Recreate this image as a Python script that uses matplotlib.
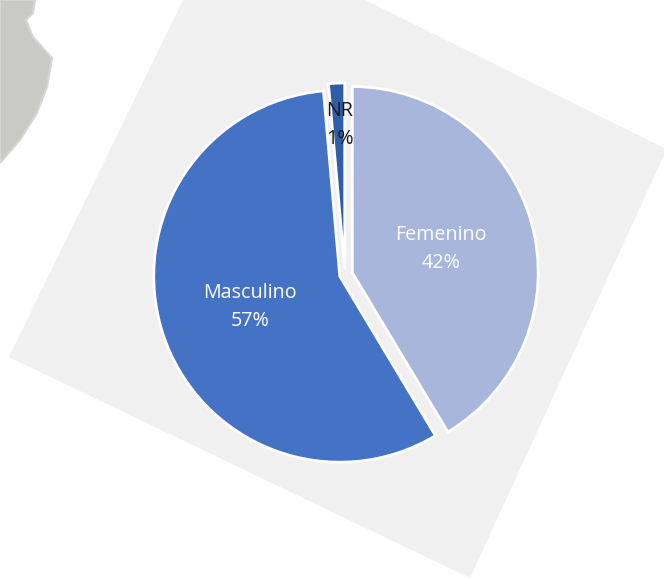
import matplotlib
matplotlib.use("Agg")
import matplotlib.pyplot as plt
from matplotlib.patches import Polygon

W, H = 664, 579
categories = ["Femenino", "Masculino", "NR"]
values = [41.4, 57.2, 1.4]
pct_labels = ["42%", "57%", "1%"]
colors = ["#a9b6dc", "#4472c4", "#2f5ea8"]
explode = [7.5, 5.5, 5.5]
text_colors = ["white", "white", "#1a1a1a"]
label_xy = [(441, 249), (250, 307), (340, 125)]

panel = [(9, 357), (183, 0), (365, 0), (664, 148), (664, 155), (470, 578)]
land = [(0, 0), (35, 0), (33, 13), (26, 20), (33, 37), (52, 58), (47, 87),
        (37, 113), (20, 140), (0, 163)]


def flip(pts):
    return [(x, H - y) for x, y in pts]


plt.rcParams["font.family"] = ["Open Sans", "DejaVu Sans"]
fig = plt.figure(figsize=(W / 100, H / 100), dpi=100, facecolor="white")
ax = fig.add_axes([0, 0, 1, 1])

ax.add_patch(Polygon(flip(land), closed=True, fc="#c9cac6", ec="#d6d6d4", lw=1.5, zorder=1))
ax.add_patch(Polygon(flip(panel), closed=True, fc="#f0f0f0", ec="none", zorder=1))

wedges, _ = ax.pie(values, colors=colors, explode=explode, startangle=90,
                   counterclock=False, radius=186, center=(345, H - 274.5),
                   frame=True, wedgeprops={"edgecolor": "white", "linewidth": 2})
for w in wedges:
    w.set_zorder(2)

for name, pct, col, (x, y) in zip(categories, pct_labels, text_colors, label_xy):
    ax.text(x, H - y, f"{name}\n{pct}", color=col, fontsize=14.2, ha="center",
            va="center", linespacing=1.55, zorder=3)

ax.set_xlim(0, W)
ax.set_ylim(0, H)
ax.set_aspect("auto")
ax.axis("off")
fig.savefig("out.png", dpi=100, facecolor="white")
